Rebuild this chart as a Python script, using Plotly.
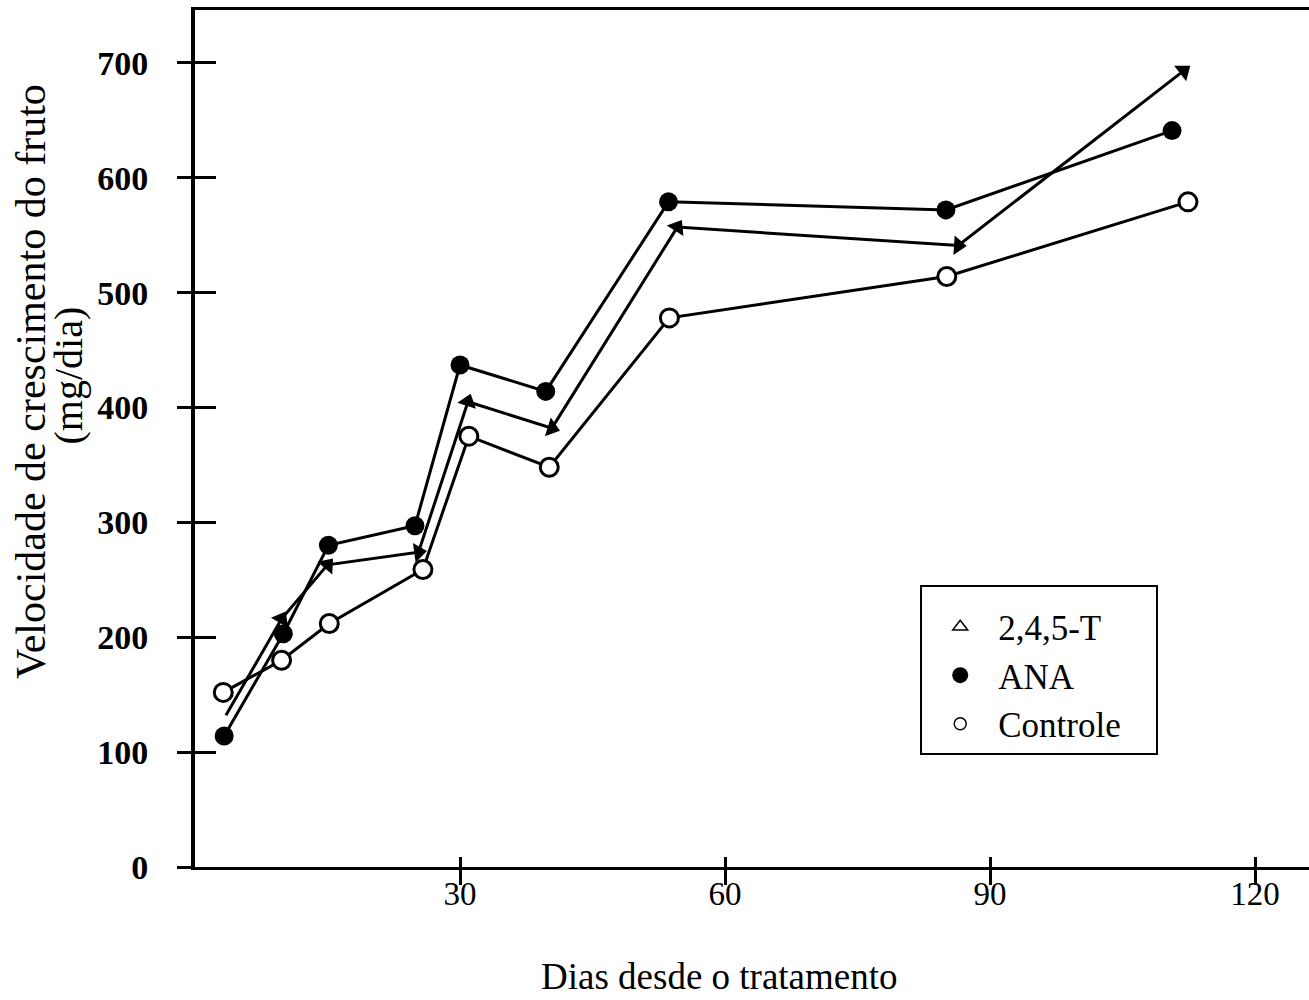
import plotly.graph_objects as go

# Velocidade de crescimento do fruto (mg/dia) por dias desde o tratamento
dias_t245 = [3.5, 9.8, 15.0, 25.3, 30.9, 40.4, 54.6, 86.4, 111.9]
vel_t245 = [132, 216, 263, 274, 405, 382, 557, 541, 693]

dias_ana = [3.3, 10.0, 15.1, 24.9, 30.0, 39.7, 53.6, 85.0, 110.6]
vel_ana = [114, 203, 280, 297, 437, 414, 579, 572, 641]

dias_controle = [3.2, 9.8, 15.2, 25.8, 31.0, 40.1, 53.7, 85.1, 112.4]
vel_controle = [152, 180, 212, 259, 375, 348, 478, 514, 579]

series_names = ["2,4,5-T", "ANA", "Controle"]
x_ticks = [30, 60, 90, 120]
y_ticks = [0, 100, 200, 300, 400, 500, 600, 700]

FONT = "Liberation Serif"
X_RANGE = [0, 126.1]
Y_RANGE = [0, 746]

fig = go.Figure()

# data series (legend handled by separate marker-only entries)
fig.add_trace(go.Scatter(
    x=dias_t245, y=vel_t245, mode="lines+markers", showlegend=False,
    line=dict(color="black", width=3),
    marker=dict(symbol="triangle-up", size=17, color="black", angleref="previous"),
))
fig.add_trace(go.Scatter(
    x=dias_ana, y=vel_ana, mode="lines+markers", showlegend=False,
    line=dict(color="black", width=3),
    marker=dict(symbol="circle", size=19, color="black"),
))
fig.add_trace(go.Scatter(
    x=dias_controle, y=vel_controle, mode="lines+markers", showlegend=False,
    line=dict(color="black", width=3),
    marker=dict(symbol="circle", size=18, color="white", line=dict(color="black", width=3)),
))

# legend entries
fig.add_trace(go.Scatter(
    x=[None], y=[None], mode="markers", name=series_names[0],
    marker=dict(symbol="triangle-up-open", size=13, color="black", line=dict(width=1.5)),
))
fig.add_trace(go.Scatter(
    x=[None], y=[None], mode="markers", name=series_names[1],
    marker=dict(symbol="circle", size=22, color="black"),
))
fig.add_trace(go.Scatter(
    x=[None], y=[None], mode="markers", name=series_names[2],
    marker=dict(symbol="circle-open", size=12, color="black", line=dict(width=1.5)),
))

# overlay axes carrying the inner half of the crossing tick marks
fig.add_trace(go.Scatter(x=[None], y=[None], xaxis="x2", yaxis="y2",
                         showlegend=False, hoverinfo="skip"))

# blank legend title: widens the box and adds a little top padding
legend_spacer = "\u00a0" * 115

fig.update_layout(
    width=1309, height=1000,
    margin=dict(l=195, r=0, t=10, b=133),
    paper_bgcolor="white", plot_bgcolor="white",
    font=dict(family=FONT, color="black"),
    showlegend=True,
    legend=dict(
        x=0.651, y=0.329, xanchor="left", yanchor="top",
        bgcolor="white", bordercolor="black", borderwidth=2,
        font=dict(family=FONT, size=35, color="black"),
        title=dict(text=legend_spacer, font=dict(family=FONT, size=8)),
        itemwidth=66, tracegroupgap=0,
    ),
    xaxis=dict(
        range=X_RANGE, tickvals=x_ticks, ticks="outside", ticklen=15, tickwidth=3,
        tickcolor="black", showline=True, linewidth=3, linecolor="black",
        mirror=True, showgrid=False, zeroline=False, ticklabelstandoff=-20,
        tickfont=dict(family=FONT, size=33, color="black"),
    ),
    yaxis=dict(
        range=Y_RANGE, tickvals=y_ticks, ticks="outside", ticklen=14, tickwidth=3,
        tickcolor="black", showline=True, linewidth=4, linecolor="black",
        showgrid=False, zeroline=False, ticklabelstandoff=22,
        tickfont=dict(family=FONT, size=34, color="black", weight="bold"),
    ),
    xaxis2=dict(
        range=X_RANGE, tickvals=x_ticks, ticks="inside", ticklen=10, tickwidth=3,
        tickcolor="black", showticklabels=False, showline=False, showgrid=False,
        zeroline=False, overlaying="x", anchor="y2",
    ),
    yaxis2=dict(
        range=Y_RANGE, tickvals=y_ticks, ticks="inside", ticklen=21, tickwidth=3,
        tickcolor="black", showticklabels=False, showline=False, showgrid=False,
        zeroline=False, overlaying="y", anchor="x2",
    ),
    annotations=[
        dict(text="Velocidade de crescimento do fruto",
             xref="paper", yref="paper", x=-0.1472, y=0.566,
             xanchor="center", yanchor="middle", textangle=-90, showarrow=False,
             font=dict(family=FONT, size=42, color="black")),
        dict(text="(mg/dia)",
             xref="paper", yref="paper", x=-0.1136, y=0.574,
             xanchor="center", yanchor="middle", textangle=-90, showarrow=False,
             font=dict(family=FONT, size=40, color="black")),
        dict(text="Dias desde o tratamento",
             xref="paper", yref="paper", x=0.471, y=-0.128,
             xanchor="center", yanchor="middle", showarrow=False,
             font=dict(family=FONT, size=37, color="black")),
    ],
)

fig.write_html("out.html")
